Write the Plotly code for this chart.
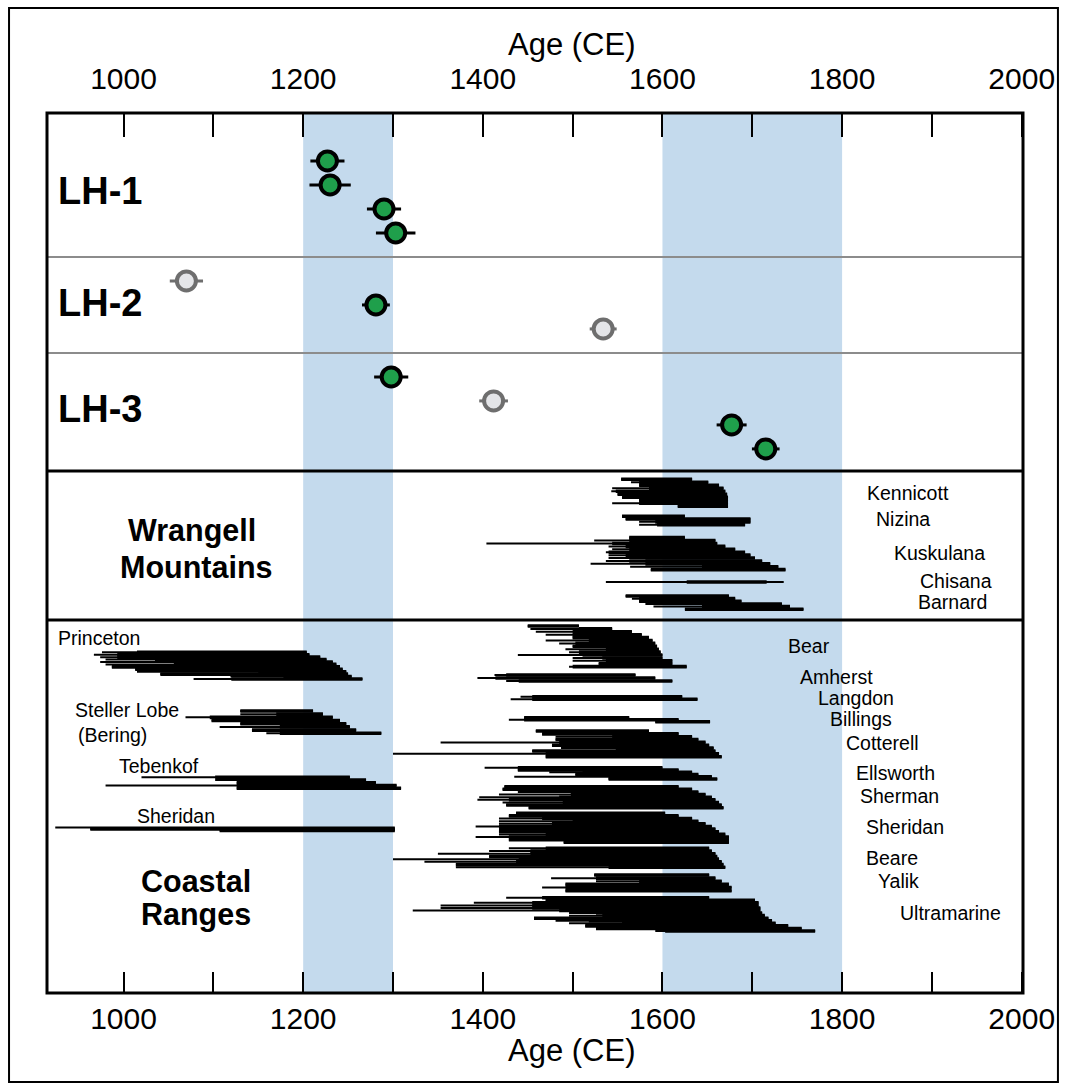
import plotly.graph_objects as go

# ---------------- data ----------------
AGE_RANGE = [914.8, 2001.4]
MAJOR_TICKS = [1000, 1200, 1400, 1600, 1800, 2000]
MINOR_TICKS = [1100, 1300, 1500, 1700, 1900]
COLD_BANDS = [(1200, 1300), (1600, 1800)]

LH_NAMES = ["LH-1", "LH-2", "LH-3"]
LH_LABEL_ROW = [1.26, 5.9, 10.35]
LH_DIVIDERS = [4, 8]
LH_ROW = [0, 1, 2, 3, 5, 6, 7, 9, 10, 11, 12]
LH_AGE = [1227, 1230, 1290, 1303, 1070, 1281, 1534, 1298, 1412, 1677, 1715]
LH_ERR = [19, 23, 19, 22, 18.5, 15.5, 15, 19, 16, 16.7, 15.4]
LH_ACCEPTED = [True, True, True, True, False, True, False, True, False, True, True]

# tree-ring records: (first year, start of solid part, [end of solid part,] last year)
WRANGELL = {
    "Kennicott": [(1554, 1554, 1633), (1565, 1574, 1651), (1574, 1574, 1663), (1544, 1585, 1668),
                  (1543, 1548, 1670), (1550, 1550, 1672), (1555, 1555, 1673), (1574, 1574, 1673),
                  (1544, 1574, 1673), (1617, 1617, 1673)],
    "Nizina": [(1555, 1555, 1625), (1559, 1559, 1698), (1574, 1592, 1698), (1574, 1594, 1692)],
    "Kuskulana": [(1563, 1563, 1625), (1524, 1563, 1659), (1404, 1544, 1661), (1540, 1559, 1670),
                  (1544, 1563, 1681), (1537, 1540, 1692), (1540, 1559, 1698), (1540, 1581, 1703),
                  (1537, 1563, 1711), (1520, 1581, 1720), (1564, 1644, 1729), (1587, 1587, 1737)],
    "Chisana": [(1537, 1627, 1716, 1735)],
    "Barnard": [(1559, 1559, 1674), (1566, 1574, 1681), (1574, 1574, 1688), (1581, 1644, 1733),
                (1590, 1644, 1742), (1625, 1625, 1757)],
}
COASTAL = {
    "Princeton": [(976, 1015, 1204), (967, 993, 1207), (974, 993, 1219), (980, 1035, 1226),
                  (974, 1059, 1233), (980, 1056, 1237), (987, 987, 1241), (1013, 1013, 1244),
                  (1015, 1150, 1248), (1041, 1041, 1250), (1119, 1178, 1254), (1078, 1120, 1266)],
    "Steller Lobe": [(1130, 1130, 1211), (1130, 1170, 1222), (1069, 1096, 1233), (1098, 1098, 1241),
                     (1130, 1130, 1248), (1107, 1174, 1252), (1143, 1143, 1259), (1159, 1174, 1287)],
    "Tebenkof": [(1020, 1102, 1252), (1102, 1163, 1270), (1126, 1126, 1281), (980, 1126, 1304),
                 (1126, 1126, 1309)],
    "Sheridan W": [(924, None, 1302), (963, 963, 1302), (1107, 1107, 1302)],
    "Bear": [(1450, 1450, 1507), (1453, 1507, 1544), (1459, 1500, 1566), (1470, 1500, 1577),
             (1500, 1500, 1585), (1470, 1518, 1589), (1485, 1503, 1592), (1500, 1500, 1594),
             (1492, 1537, 1596), (1496, 1507, 1598), (1439, 1511, 1600), (1500, 1533, 1600),
             (1500, 1537, 1611), (1529, 1529, 1611), (1496, 1500, 1627)],
    "Amherst": [(1413, 1426, 1570), (1394, 1414, 1592), (1426, 1440, 1611)],
    "Langdon": [(1442, 1455, 1622), (1431, 1455, 1639)],
    "Billings": [(1446, 1446, 1563), (1429, 1446, 1618), (1592, 1592, 1653)],
    "Cotterell": [(1459, 1459, 1585), (1466, 1466, 1618), (1481, 1544, 1633), (1481, 1481, 1640),
                  (1353, 1485, 1648), (1477, 1477, 1652), (1487, 1548, 1657), (1455, 1455, 1659),
                  (1300, 1470, 1663), (1470, 1470, 1666)],
    "Ellsworth": [(1402, 1439, 1600), (1439, 1439, 1618), (1474, 1511, 1633), (1503, 1503, 1640),
                  (1435, 1540, 1655), (1540, 1540, 1661)],
    "Sherman": [(1424, 1424, 1618), (1422, 1422, 1633), (1439, 1498, 1640), (1418, 1498, 1648),
                (1396, 1485, 1655), (1394, 1429, 1659), (1422, 1489, 1663), (1426, 1426, 1666),
                (1451, 1451, 1668)],
    "Sheridan C": [(1437, 1437, 1603), (1429, 1429, 1618), (1418, 1466, 1633), (1418, 1500, 1640),
                   (1418, 1477, 1648), (1392, 1418, 1655), (1418, 1485, 1659), (1418, 1418, 1663),
                   (1418, 1470, 1670), (1392, 1429, 1674), (1429, 1429, 1674), (1490, 1490, 1674)],
    "Beare": [(1429, 1470, 1652), (1407, 1453, 1655), (1350, 1453, 1659), (1407, 1407, 1661),
              (1300, 1440, 1663), (1335, 1437, 1666), (1370, 1370, 1668), (1370, 1540, 1670)],
    "Yalik": [(1524, 1524, 1652), (1476, 1526, 1659), (1526, 1574, 1666), (1492, 1492, 1674),
              (1466, 1492, 1677), (1492, 1492, 1677)],
    "Ultramarine": [(1426, 1466, 1652), (1470, 1470, 1703), (1390, 1455, 1707), (1353, 1455, 1707),
                    (1353, 1455, 1709), (1322, 1485, 1709), (1496, 1526, 1711), (1496, 1533, 1714),
                    (1457, 1457, 1718), (1481, 1518, 1722), (1496, 1555, 1726), (1514, 1514, 1740),
                    (1526, 1526, 1755), (1592, 1603, 1770)],
}

# ---------------- layout of groups (panel row units, top->bottom) ----------------
WR_ROWS = {"Kennicott": (8.3, 35.3), "Nizina": (45.3, 53.7), "Kuskulana": (66.7, 98.7),
           "Chisana": (111, 111), "Barnard": (125, 138.3)}
CO_ROWS = {"Princeton": (32.3, 59), "Steller Lobe": (91, 113.3), "Tebenkof": (157.3, 168.3),
           "Sheridan W": (207.5, 210.5), "Bear": (6, 46.7), "Amherst": (55, 61),
           "Langdon": (76.7, 79.3), "Billings": (97.7, 101.7), "Cotterell": (111, 136.7),
           "Ellsworth": (147.7, 159), "Sherman": (166.7, 187.7), "Sheridan C": (193.3, 222.3),
           "Beare": (228.3, 247.3), "Yalik": (255, 270.7), "Ultramarine": (277.7, 311)}

WR_LABELS = [("Kennicott", 1825, 22), ("Nizina", 1836, 48), ("Kuskulana", 1856, 82),
             ("Chisana", 1885, 110), ("Barnard", 1882.6, 131)]
CO_LABELS = [("Bear", 1738, 26), ("Amherst", 1751.4, 57), ("Langdon", 1771.4, 78.5),
             ("Billings", 1784.8, 99.5), ("Cotterell", 1802.6, 123), ("Ellsworth", 1813.7, 153),
             ("Sherman", 1818, 176), ("Sheridan", 1824.8, 207), ("Beare", 1824.8, 238),
             ("Yalik", 1838, 261), ("Ultramarine", 1862.6, 293),
             ("Princeton", 924.8, 18), ("Steller Lobe", 943.7, 90), ("(Bering)", 947, 115),
             ("Tebenkof", 992.6, 146), ("Sheridan", 1012.6, 196)]

FONT = "Liberation Sans, Arial, sans-serif"
GREEN = "#1f9f4b"
BLUE = "#c4daed"

fig = go.Figure()


def build(records, rows, yaxis):
    tx, ty, kx, ky = [], [], [], []
    for name, recs in records.items():
        top, bottom = rows[name]
        n = len(recs)
        step = (bottom - top) / (n - 1) if n > 1 else 0
        for i, r in enumerate(recs):
            y = top + i * step
            start, tstart, end = r[0], r[1], r[-1]
            tend = r[2] if len(r) == 4 else end
            tx += [start, end, None]
            ty += [y, y, None]
            if tstart is not None:
                kx += [tstart, tend, None]
                ky += [y, y, None]
    fig.add_trace(go.Scatter(x=tx, y=ty, mode="lines", line=dict(color="black", width=2),
                             xaxis="x", yaxis=yaxis, hoverinfo="skip"))
    fig.add_trace(go.Scatter(x=kx, y=ky, mode="lines", line=dict(color="black", width=3.6),
                             xaxis="x", yaxis=yaxis, hoverinfo="skip"))


build(WRANGELL, WR_ROWS, "y3")
build(COASTAL, CO_ROWS, "y4")

# LH samples
for accepted in (True, False):
    idx = [i for i, a in enumerate(LH_ACCEPTED) if a == accepted]
    col = "black" if accepted else "#6e6e6e"
    fig.add_trace(go.Scatter(
        x=[LH_AGE[i] for i in idx], y=[LH_ROW[i] for i in idx],
        mode="markers", xaxis="x2", yaxis="y",
        error_x=dict(type="data", array=[LH_ERR[i] for i in idx], thickness=3, width=0, color=col),
        marker=dict(size=19, color=GREEN if accepted else "#e4e5e8", line=dict(color=col, width=4)),
        hoverinfo="skip"))

shapes = []
for a, b in COLD_BANDS:
    shapes.append(dict(type="rect", xref="x", yref="paper", x0=a, x1=b, y0=0, y1=1,
                       fillcolor=BLUE, line=dict(width=0), layer="below"))
for r in LH_DIVIDERS:
    shapes.append(dict(type="line", xref="paper", yref="y", x0=0, x1=1, y0=r, y1=r,
                       line=dict(color="#8c8c8c", width=2)))
D_WR = [0.4239, 0.5932]
for yv in D_WR:
    shapes.append(dict(type="line", xref="paper", yref="paper", x0=0, x1=1, y0=yv, y1=yv,
                       line=dict(color="black", width=3)))
shapes.append(dict(type="rect", xref="paper", yref="paper", x0=0, x1=1, y0=0, y1=1,
                   line=dict(color="black", width=3)))
shapes.append(dict(type="rect", xref="paper", yref="paper", x0=-0.0389, x1=1.0358,
                   y0=-0.1011, y1=1.1193, line=dict(color="black", width=2)))

ann = []
for name, r in zip(LH_NAMES, LH_LABEL_ROW):
    ann.append(dict(text="<b>%s</b>" % name, x=925, y=r, xref="x", yref="y", xanchor="left",
                    yanchor="middle", showarrow=False, font=dict(size=38, color="black", family=FONT)))
for name, x, y in WR_LABELS:
    ann.append(dict(text=name, x=x, y=y, xref="x", yref="y3", xanchor="left", yanchor="middle",
                    showarrow=False, font=dict(size=19.5, color="black", family=FONT)))
for name, x, y in CO_LABELS:
    ann.append(dict(text=name, x=x, y=y, xref="x", yref="y4", xanchor="left", yanchor="middle",
                    showarrow=False, font=dict(size=19.5, color="black", family=FONT)))
for txt, x, y, ax in [("Wrangell", 1076, 60, "y3"), ("Mountains", 1081, 96, "y3"),
                      ("Coastal", 1081, 261, "y4"), ("Ranges", 1081, 295, "y4")]:
    ann.append(dict(text="<b>%s</b>" % txt, x=x, y=y, xref="x", yref=ax, xanchor="center",
                    yanchor="middle", showarrow=False, font=dict(size=30.5, color="black", family=FONT)))
for y in (1.0773, -0.0648):
    ann.append(dict(text="Age (CE)", x=0.5378, y=y, xref="paper", yref="paper", xanchor="center",
                    yanchor="middle", showarrow=False, font=dict(size=31, color="black", family=FONT)))

axis_common = dict(range=AGE_RANGE, tickvals=MAJOR_TICKS, ticktext=[str(t) for t in MAJOR_TICKS],
                   ticks="inside", tickwidth=1.5, tickcolor="black", showgrid=False, zeroline=False,
                   showline=False, tickfont=dict(size=30, color="black", family=FONT),
                   domain=[0, 1])
fig.update_layout(
    width=1067, height=1088, margin=dict(l=47, r=42, t=113, b=95),
    plot_bgcolor="white", paper_bgcolor="white", showlegend=False,
    xaxis=dict(**axis_common, ticklen=21, anchor="free", position=0, side="bottom",
               ticklabelstandoff=5,
               minor=dict(tickvals=MINOR_TICKS, ticks="inside", ticklen=21, tickwidth=1.5,
                          tickcolor="black")),
    xaxis2=dict(**axis_common, ticklen=23, anchor="free", position=1, side="top", overlaying="x",
                ticklabelstandoff=18,
                minor=dict(tickvals=MINOR_TICKS, ticks="inside", ticklen=23, tickwidth=1.5,
                           tickcolor="black")),
    yaxis=dict(domain=[0.5932, 1], range=[12.92, -2], visible=False, anchor="x"),
    yaxis3=dict(domain=D_WR, range=[149, 0], visible=False, anchor="x"),
    yaxis4=dict(domain=[0, D_WR[0]], range=[373, 0], visible=False, anchor="x"),
    shapes=shapes, annotations=ann,
)
fig.write_html("out.html", config={"displayModeBar": False},
               post_script="document.body.style.margin='0';document.body.style.overflow='hidden';")
